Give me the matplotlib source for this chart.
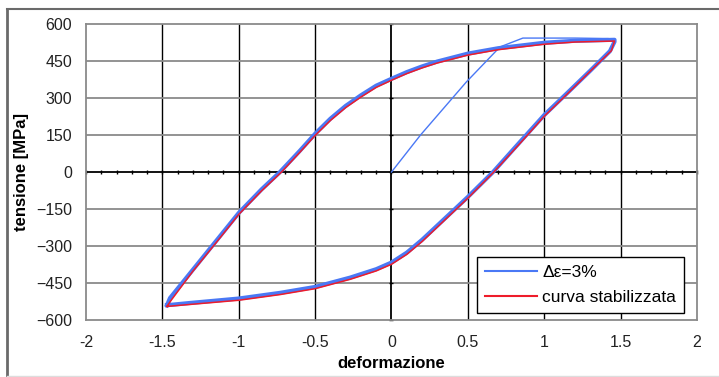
import numpy as np
import matplotlib.pyplot as plt
from matplotlib.lines import Line2D

plt.rcParams['font.family'] = ['Liberation Sans', 'DejaVu Sans']

# first loading (blue, single pass)
first_x = [0.0, 0.19, 0.49, 0.71, 0.86, 1.20, 1.42, 1.46]
first_y = [0, 150, 365, 507, 543, 543, 541, 528]

# loading branch of the loop (bottom-left -> top-right)
up_x = [-1.47, -1.45, -1.30, -1.15, -1.00, -0.85, -0.73, -0.60, -0.50, -0.40,
        -0.30, -0.20, -0.10, 0.00, 0.10, 0.20, 0.30, 0.50, 0.70, 1.00, 1.20, 1.46]
up_y = [-540, -511, -396, -281, -166, -70, 0, 86, 155, 216,
        268, 311, 350, 378, 405, 428, 448, 480, 502, 524, 532, 536]

# unloading branch (top-right -> bottom-left)
down_x = [1.46, 1.43, 1.30, 1.15, 1.00, 0.85, 0.665, 0.50, 0.35, 0.20,
          0.10, 0.00, -0.10, -0.27, -0.50, -0.73, -1.00, -1.32, -1.47]
down_y = [528, 490, 410, 320, 231, 128, 0, -101, -188, -275,
          -327, -367, -394, -428, -466, -490, -513, -531, -540]

# stabilised cycle (red)
red_up_x = [-1.47, -1.44, -1.30, -1.15, -1.00, -0.85, -0.72, -0.60, -0.50, -0.40,
            -0.30, -0.20, -0.10, 0.00, 0.10, 0.20, 0.30, 0.50, 0.70, 1.00, 1.20, 1.46]
red_up_y = [-545, -518, -402, -288, -172, -76, 0, 80, 148, 209,
            261, 304, 343, 372, 399, 422, 442, 474, 496, 518, 527, 531]
red_down_x = [1.46, 1.44, 1.30, 1.15, 1.00, 0.85, 0.67, 0.50, 0.35, 0.20,
              0.10, 0.00, -0.10, -0.27, -0.50, -0.73, -1.00, -1.32, -1.47]
red_down_y = [531, 492, 408, 316, 226, 122, 0, -106, -194, -282,
              -334, -374, -401, -435, -473, -497, -520, -537, -545]

fig = plt.figure(figsize=(7.19, 3.77), dpi=100)
ax = fig.add_axes([0.1196, 0.1512, 0.8498, 0.7851])

blue = '#4a78f5'
red = '#ee1c2a'

ax.plot(first_x, first_y, color=blue, lw=1.0, zorder=3)
ax.plot(up_x + down_x, up_y + down_y, color=blue, lw=3.0, zorder=3,
        solid_joinstyle='round', label='Δε=3%')
ax.plot(red_up_x + red_down_x, red_up_y + red_down_y, color=red, lw=1.1, zorder=4,
        label='curva stabilizzata')

ax.set_xlim(-2, 2)
ax.set_ylim(-600, 600)
ax.set_xticks(np.arange(-2, 2.01, 0.5))
ax.set_xticklabels(['-2', '-1.5', '-1', '-0.5', '0', '0.5', '1', '1.5', '2'])
ax.set_yticks(np.arange(-600, 601, 150))
ax.tick_params(length=0, labelsize=11.5, colors='#222222')
ax.tick_params(axis='x', pad=11)
ax.tick_params(axis='y', pad=10)

# grid
for v in [-1.5, -1, -0.5, 0.5, 1, 1.5]:
    ax.axvline(v, color='black', lw=1.0, zorder=1)
for h in np.arange(-450, 451, 150):
    if h != 0:
        ax.axhline(h, color='#8a8a8a', lw=1.3, zorder=1)
ax.axhline(0, color='black', lw=1.3, zorder=2)
ax.axvline(0, color='black', lw=1.3, zorder=2)

# small ticks on the zero axes
mx = np.round(np.arange(-2, 2.01, 0.1), 2)
ax.plot(mx, np.zeros_like(mx), ls='none', marker='|', ms=3.5, mew=1.0, color='black',
        zorder=2, clip_on=False)
my = np.arange(-600, 601, 150)
ax.plot(np.zeros_like(my), my, ls='none', marker='_', ms=3.5, mew=1.0, color='black',
        zorder=2, clip_on=False)

for s in ax.spines.values():
    s.set_color('#8a8a8a')
    s.set_linewidth(1.3)

ax.set_xlabel('deformazione', fontsize=12, fontweight='bold', labelpad=4)
ax.set_ylabel('tensione [MPa]', fontsize=12, fontweight='bold', labelpad=5)

leg = ax.legend(loc='lower right', bbox_to_anchor=(0.979, 0.024), fontsize=12.5,
                fancybox=False, framealpha=1, edgecolor='black', handlelength=3.0,
                borderpad=0.45, labelspacing=0.55, handletextpad=0.3,
                borderaxespad=0)
leg.get_frame().set_linewidth(1.0)
for h in leg.get_lines():
    h.set_linewidth(1.5)

# outer frame
fig.add_artist(Line2D([7 / 719, 7 / 719], [0, 1 - 9 / 377], color='#6a6a6a', lw=2))
fig.add_artist(Line2D([7 / 719, 1], [1 - 9 / 377, 1 - 9 / 377], color='#6a6a6a', lw=1.5))
fig.add_artist(Line2D([7 / 719, 1], [1.5 / 377, 1.5 / 377], color='#dddddd', lw=1))

fig.savefig('out.png', dpi=100)
